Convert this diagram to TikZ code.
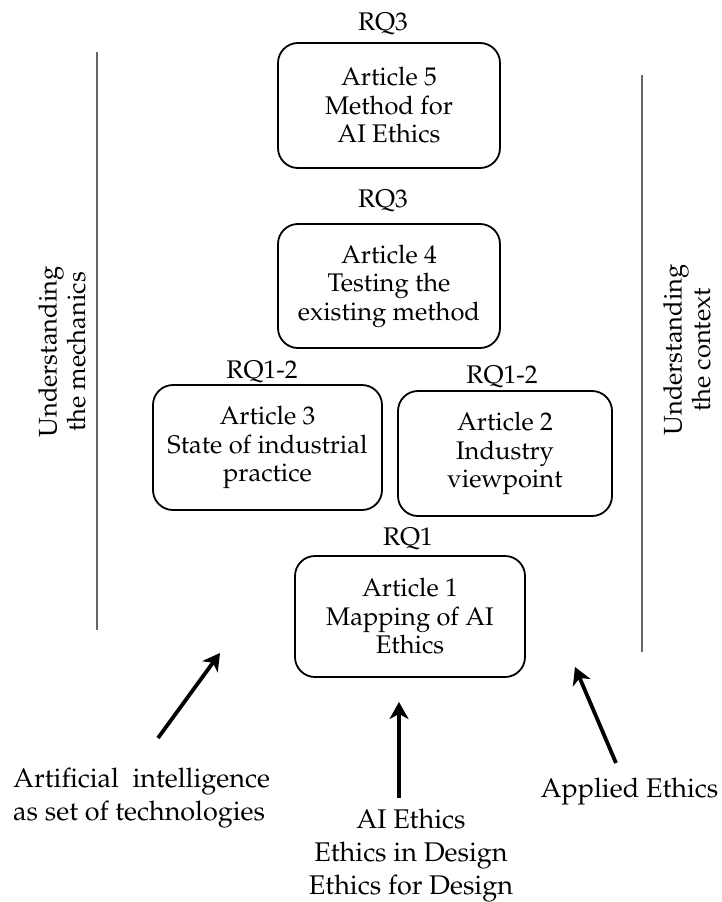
\documentclass[tikz,border=0pt]{standalone}
\usepackage[T1]{fontenc}
\usepackage{mathpazo}
\usetikzlibrary{arrows.meta}
\begin{document}
\begin{tikzpicture}[x=1pt,y=-1pt,
  every node/.style={inner sep=0pt},
  boxtext/.style={font=\fontsize{25.5}{28.5}\selectfont},
  article/.style={boxtext, draw, line width=1.8pt, rounded corners=20pt, align=center},
  rq/.style={boxtext},
  side/.style={boxtext, rotate=90, align=center},
  divider/.style={draw=black!60, line width=1.2pt},
  input/.style={line width=3.8pt, -{Stealth[length=17pt,width=19pt,inset=5pt]}},
  source/.style={font=\fontsize{27}{33}\selectfont, align=center}]
\useasboundingbox (0,0) rectangle (721,902);

% article boxes
\node[article, minimum width=222pt, minimum height=125pt] (a5) at (389,105.5) {Article 5\\Method for\\AI Ethics};
\node[article, minimum width=222pt, minimum height=124pt] (a4) at (389,286) {Article 4\\Testing the\\existing method};
\node[article, minimum width=229pt, minimum height=125pt] (a3) at (267.5,447.5) {Article 3\\State of industrial\\practice};
\node[article, minimum width=214pt, minimum height=125pt] (a2) at (505,453.5) {Article 2\\Industry\\viewpoint};
\node[article, minimum width=230pt, minimum height=121pt] (a1) at (410,616.5) {Article 1\\Mapping of AI\\Ethics};

% research question labels
\node[rq] (q5) at (383,24) {RQ3};
\node[rq] (q4) at (383,201) {RQ3};
\node[rq] (q3) at (262,372) {RQ1-2};
\node[rq] (q2) at (502,377) {RQ1-2};
\node[rq] (q1) at (408,539) {RQ1};

% side dividers and their labels
\coordinate (lt) at (97,52);
\coordinate (lb) at (97,630);
\coordinate (rt) at (642,75);
\coordinate (rb) at (642,652);
\draw[divider] (lt) -- (lb);
\draw[divider] (rt) -- (rb);
\node[side] (mech) at (62,352) {Understanding\\the mechanics};
\node[side] (ctx) at (687,350) {Understanding\\the context};

% input fields (anchored at the baseline of their last line)
\node[source, align=left, anchor=base west] (ai) at (13,820) {Artificial\ \ intelligence\\as set of technologies};
\node[source, anchor=base] (ethics) at (411,894) {AI Ethics\\Ethics in Design\\Ethics for Design};
\node[source, anchor=base] (applied) at (629.5,797) {Applied Ethics};

% arrows towards the article stack
\coordinate (s1) at (158,738);
\coordinate (e1) at (220,653);
\coordinate (s2) at (399,798);
\coordinate (e2) at (399,702);
\coordinate (s3) at (616,763);
\coordinate (e3) at (575,667);
\draw[input] (s1) -- (e1);
\draw[input] (s2) -- (e2);
\draw[input] (s3) -- (e3);
\end{tikzpicture}
\end{document}
